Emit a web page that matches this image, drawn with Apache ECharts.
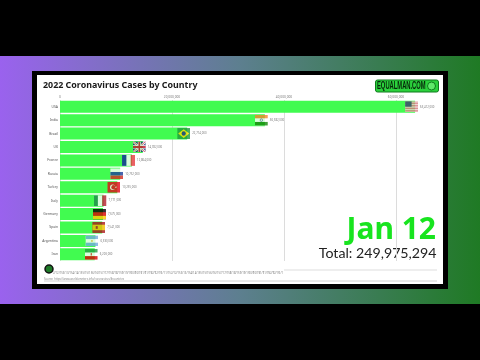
<!DOCTYPE html>
<html><head><meta charset="utf-8">
<style>html,body{margin:0;padding:0;background:#000}#c{width:480px;height:360px}</style>
<script src="https://cdn.jsdelivr.net/npm/echarts@6/dist/echarts.min.js"></script>
</head><body><div id="c"></div>
<script>
const countries = ['USA','India','Brazil','UK','France','Russia','Turkey','Italy','Germany','Spain','Argentina','Iran'];
const cases = [63412000,36582000,22714000,14782000,12864000,10752000,10235000,7771000,7675000,7541000,6330000,6203000];
const flagIds = ['us','in','br','gb','fr','ru','tr','it','de','es','ar','ir'];
const xTicks = [0,20000000,40000000,60000000];
const timeline = ['2/1','2/15','3/1','3/15','4/1','4/15','5/1','5/15','6/1','6/15','7/1','7/15','8/1','8/15','9/1','9/15','10/1','10/15','11/1','11/15','12/1','12/15','1/1','1/15','2/1','2/15','3/1','3/15','4/1','4/15','5/1','5/15','6/1','6/15','7/1','7/15','8/1','8/15','9/1','9/15','10/1','10/15','11/1','11/15','12/1','12/15','1/1'];
const flags = {
 us:'<rect width="26" height="20" fill="#fff"/><path d="M0 1.5H26M0 4.5H26M0 7.5H26M0 10.5H26M0 13.5H26M0 16.5H26M0 19.5H26" stroke="#c8434f" stroke-width="1.6"/><rect width="13" height="10" fill="#3c3b6e"/>',
 in:'<rect width="26" height="20" fill="#fff"/><rect width="26" height="6.7" fill="#f4882c"/><rect y="13.3" width="26" height="6.7" fill="#138808"/><circle cx="13" cy="10" r="2.4" fill="none" stroke="#1a237e"/>',
 br:'<rect width="26" height="20" fill="#1f9a3c"/><path d="M13 2L24 10L13 18L2 10Z" fill="#fedf00"/><circle cx="13" cy="10" r="4.2" fill="#23307e"/>',
 gb:'<rect width="26" height="20" fill="#1b2a6b"/><path d="M0 0L26 20M26 0L0 20" stroke="#fff" stroke-width="4"/><path d="M0 0L26 20M26 0L0 20" stroke="#c8102e" stroke-width="1.5"/><path d="M13 0V20M0 10H26" stroke="#fff" stroke-width="6"/><path d="M13 0V20M0 10H26" stroke="#c8102e" stroke-width="3.4"/>',
 fr:'<rect width="26" height="20" fill="#fff"/><rect width="8.7" height="20" fill="#10269a"/><rect x="17.3" width="8.7" height="20" fill="#e63a3e"/>',
 ru:'<rect width="26" height="20" fill="#fff"/><rect y="6.7" width="26" height="6.7" fill="#1c3f9c"/><rect y="13.3" width="26" height="6.7" fill="#d52b1e"/>',
 tr:'<rect width="26" height="20" fill="#e30a17"/><circle cx="10.5" cy="10" r="5" fill="#fff"/><circle cx="12" cy="10" r="4" fill="#e30a17"/><path d="M15 10l4-1.6-2.4 3.4v-3.6l2.4 3.4z" fill="#fff"/>',
 it:'<rect width="26" height="20" fill="#fff"/><rect width="8.7" height="20" fill="#1f8a4c"/><rect x="17.3" width="8.7" height="20" fill="#b3202c"/>',
 de:'<rect width="26" height="20" fill="#000"/><rect y="6.7" width="26" height="6.7" fill="#dd0000"/><rect y="13.3" width="26" height="6.7" fill="#ffce00"/>',
 es:'<rect width="26" height="20" fill="#aa151b"/><rect y="5" width="26" height="10" fill="#f1bf00"/><rect x="7" y="7.5" width="4" height="5" fill="#aa151b"/>',
 ar:'<rect width="26" height="20" fill="#fff"/><rect width="26" height="6.7" fill="#74acdf"/><rect y="13.3" width="26" height="6.7" fill="#74acdf"/><circle cx="13" cy="10" r="1.8" fill="#e8b33a"/>',
 ir:'<rect width="26" height="20" fill="#fff"/><rect width="26" height="6.7" fill="#239f40"/><rect y="13.3" width="26" height="6.7" fill="#da0000"/><rect x="12" y="7.8" width="2" height="4.4" fill="#da0000"/>'
};
const flagImg = id => 'image://data:image/svg+xml;charset=utf-8,' + encodeURIComponent('<svg xmlns="http://www.w3.org/2000/svg" viewBox="0 0 26 20" width="26" height="20">'+flags[id]+'</svg>');
const fmt = v => v.toLocaleString('en-US');
const chart = echarts.init(document.getElementById('c'), null, {renderer:'canvas'});
const FONT = '"Noto Sans","Open Sans",sans-serif';
const LIGHT = 'Lato,"Noto Sans",sans-serif';
chart.setOption({
 animation:false,
 backgroundColor:'#000',
 graphic:[
  {type:'rect',z:-10,shape:{x:0,y:56,width:480,height:248},style:{fill:new echarts.graphic.LinearGradient(0,0,1,0,[{offset:0,color:'#9a62ee'},{offset:.5,color:'#5d7f8f'},{offset:1,color:'#1f7a24'}])}},
  {type:'rect',z:-9,shape:{x:32,y:71,width:416,height:218},style:{fill:'#000'}},
  {type:'rect',z:-8,shape:{x:37,y:75,width:406,height:209},style:{fill:'#fff'}},
  {type:'text',x:43,y:80.5,style:{text:'2022 Coronavirus Cases by Country',font:'bold 8.9px '+FONT,fill:'#1a1a1a'}},
  {type:'rect',shape:{x:375.5,y:80,width:63,height:12,r:2},style:{fill:'#2bd13c',stroke:'#0e7a1c',lineWidth:1}},
  {type:'text',x:377,y:81,scaleX:0.58,style:{text:'EQUALMAN.COM',font:'bold 10px "Liberation Sans",sans-serif',fill:'#06250a'}},
  {type:'circle',shape:{cx:431.5,cy:86,r:4},style:{fill:'#5fe86a',stroke:'#0e7a1c',lineWidth:1}},
  {type:'circle',shape:{cx:49,cy:269,r:4},style:{fill:'#1e7a28',stroke:'#111',lineWidth:1.5}},
  {type:'line',shape:{x1:284,y1:270,x2:437,y2:270},style:{stroke:'#ddd',lineWidth:1}},
  {type:'line',shape:{x1:44,y1:281,x2:437,y2:281},style:{stroke:'#d0d0d0',lineWidth:1}},
  {type:'text',x:44,y:277.5,style:{text:'Source: https://www.worldometers.info/coronavirus/#countries',font:'2.7px '+FONT,fill:'#888',textDecoration:'underline'}},
  {type:'text',x:436,y:215.5,style:{text:'Jan 12',align:'right',font:'bold 30px '+FONT,fill:'#18e41f'}},
  {type:'text',x:436.5,y:246,style:{text:'Total: 249,975,294',align:'right',font:'14.2px '+LIGHT,fill:'#222'}}
 ],
 grid:[{left:60,top:100,width:364,height:161},{left:55,top:271,width:226,height:1}],
 xAxis:[{
  type:'value',position:'top',min:0,max:65000000,interval:20000000,
  axisLine:{show:false},axisTick:{show:false},
  axisLabel:{fontSize:3.2,color:'#777',margin:1.5,fontFamily:FONT,formatter:v=>xTicks.includes(v)?fmt(v):''},
  splitLine:{showMaxLine:false,lineStyle:{color:'#dcdcdc',width:1}}
 },{
  gridIndex:1,type:'category',data:timeline,boundaryGap:false,
  axisLine:{show:false},axisTick:{show:false},
  axisLabel:{fontSize:2.7,color:'#777',margin:0,interval:0,fontFamily:FONT,hideOverlap:false}
 }],
 yAxis:[{
  type:'category',inverse:true,data:countries,
  axisLine:{show:false},axisTick:{show:false},splitLine:{show:false},
  axisLabel:{fontSize:3.4,color:'#555',margin:2,fontFamily:FONT,interval:0}
 },{gridIndex:1,type:'value',show:false}],
 series:[{
  type:'bar',data:cases,barWidth:12,itemStyle:{color:'#41fb50'},silent:true
 },{
  type:'scatter',silent:true,
  data:cases.map((v,i)=>({value:[v,countries[i]],symbol:flagImg(flagIds[i])})),
  symbolSize:[13,11],symbolOffset:[-3.5,0],z:5,
  label:{show:true,position:'right',distance:2,fontSize:2.8,color:'#555',fontFamily:FONT,formatter:p=>fmt(p.value[0])}
 }]
});
</script></body></html>
